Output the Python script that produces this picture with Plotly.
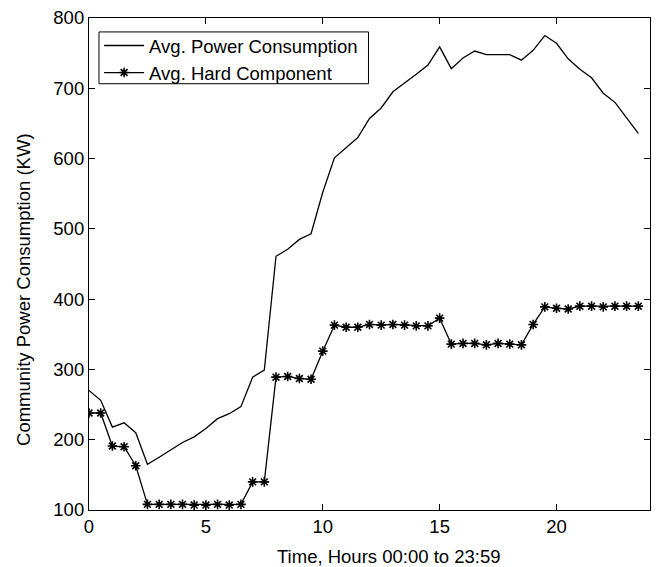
import plotly.graph_objects as go

hours = [i * 0.5 for i in range(48)]

avg_power = [270, 256, 218, 224, 210, 165, 175, 186, 196, 204,
             216, 230, 237, 247, 289, 299, 461, 471, 485, 493,
             552, 601, 616, 630, 657, 672, 695, 707, 720, 733,
             759, 728, 743, 753, 748, 748, 748, 740, 754, 775,
             764, 742, 727, 715, 693, 680, 658, 636]

avg_hard = [238, 238, 191, 190, 163, 108, 108, 108, 108, 107,
            107, 108, 107, 108, 140, 140, 289, 290, 287, 286,
            326, 363, 360, 360, 364, 363, 364, 363, 362, 362,
            373, 336, 337, 337, 335, 337, 336, 335, 364, 389,
            387, 386, 390, 390, 389, 390, 390, 390]

x_ticks = [0, 5, 10, 15, 20]
y_ticks = [100, 200, 300, 400, 500, 600, 700, 800]

x_title = "Time, Hours 00:00 to 23:59"
y_title = "Community Power Consumption (KW)"

FONT = "Liberation Sans, Arial, sans-serif"
FS = 18.5

fig = go.Figure()
fig.add_trace(go.Scatter(
    x=hours, y=avg_power, mode="lines", name="Avg. Power Consumption",
    line=dict(color="black", width=1.3),
))
fig.add_trace(go.Scatter(
    x=hours, y=avg_hard, mode="lines+markers", name="Avg. Hard Component",
    line=dict(color="black", width=1.3),
    marker=dict(symbol="asterisk-open", size=8, color="black",
                line=dict(color="black", width=1.6)),
))

axis_common = dict(
    showline=True, linecolor="black", linewidth=1.2, mirror="allticks",
    ticks="inside", ticklen=6, tickwidth=1, tickcolor="black",
    showgrid=False, zeroline=False,
    tickfont=dict(family=FONT, size=FS, color="black"),
)

fig.update_xaxes(range=[0, 24], tickvals=x_ticks,
                 ticktext=[str(v) for v in x_ticks], **axis_common)
fig.update_yaxes(range=[100, 800], tickvals=y_ticks,
                 ticktext=[str(v) for v in y_ticks], **axis_common)

fig.add_annotation(
    text=x_title, xref="paper", yref="paper", x=0.534, y=-0.095,
    xanchor="center", yanchor="middle", showarrow=False,
    font=dict(family=FONT, size=FS, color="black"),
)
fig.add_annotation(
    text=y_title, xref="paper", yref="paper", x=-0.1157, y=0.4474,
    xanchor="center", yanchor="middle", showarrow=False, textangle=-90,
    font=dict(family=FONT, size=FS, color="black"),
)

# legend frame
fig.add_shape(
    type="rect", xref="paper", yref="paper",
    x0=0.0178, x1=0.4982, y0=0.8664, y1=0.9717,
    line=dict(color="black", width=1), fillcolor="white", layer="below",
)

fig.update_layout(
    width=658, height=567,
    margin=dict(l=89, r=7, t=16, b=57),
    paper_bgcolor="white", plot_bgcolor="white",
    font=dict(family=FONT, size=FS, color="black"),
    showlegend=True,
    legend=dict(
        x=0.018, y=0.9818, xanchor="left", yanchor="top",
        bgcolor="rgba(0,0,0,0)", borderwidth=0,
        font=dict(family=FONT, size=FS, color="black"),
        tracegroupgap=0, itemwidth=40,
    ),
)

fig.write_html("out.html")
